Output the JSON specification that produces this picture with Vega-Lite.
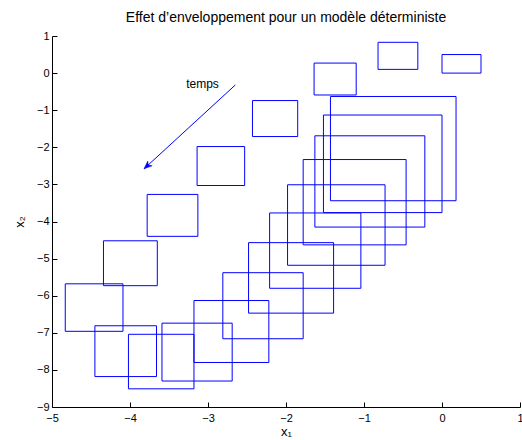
{
  "$schema": "https://vega.github.io/schema/vega-lite/v6.json",
  "width": 468,
  "height": 371,
  "autosize": "none",
  "padding": {"left": 52, "top": 36, "right": 2, "bottom": 33},
  "background": "white",
  "title": {
    "text": "Effet d’enveloppement pour un modèle déterministe",
    "font": "Liberation Sans",
    "fontSize": 14,
    "fontWeight": "normal",
    "color": "black",
    "anchor": "middle",
    "offset": 5
  },
  "config": {
    "view": {"stroke": null},
    "axis": {
      "grid": false,
      "domainColor": "black",
      "domainWidth": 1,
      "tickColor": "black",
      "tickSize": -5,
      "labelFont": "Liberation Sans",
      "labelFontSize": 11,
      "labelColor": "black",
      "labelOverlap": false,
      "labelFlush": false,
      "titleFont": "Liberation Sans",
      "titleFontSize": 13,
      "titleFontWeight": "normal",
      "titleColor": "black"
    }
  },
  "datasets": {
    "rects": [
      {"id": 1, "x1": 0.0, "x2": 0.5, "y1": 0.0, "y2": 0.5},
      {"id": 2, "x1": -0.82, "x2": -0.31, "y1": 0.1, "y2": 0.83},
      {"id": 3, "x1": -1.64, "x2": -1.1, "y1": -0.59, "y2": 0.27},
      {"id": 4, "x1": -2.43, "x2": -1.85, "y1": -1.71, "y2": -0.74},
      {"id": 5, "x1": -3.14, "x2": -2.53, "y1": -3.03, "y2": -1.98},
      {"id": 6, "x1": -3.78, "x2": -3.13, "y1": -4.4, "y2": -3.27},
      {"id": 7, "x1": -4.34, "x2": -3.65, "y1": -5.73, "y2": -4.52},
      {"id": 8, "x1": -4.83, "x2": -4.09, "y1": -6.96, "y2": -5.68},
      {"id": 9, "x1": -4.45, "x2": -3.66, "y1": -8.18, "y2": -6.81},
      {"id": 10, "x1": -4.02, "x2": -3.18, "y1": -8.51, "y2": -7.04},
      {"id": 11, "x1": -3.59, "x2": -2.69, "y1": -8.3, "y2": -6.74},
      {"id": 12, "x1": -3.18, "x2": -2.22, "y1": -7.8, "y2": -6.13},
      {"id": 13, "x1": -2.81, "x2": -1.78, "y1": -7.16, "y2": -5.38},
      {"id": 14, "x1": -2.48, "x2": -1.39, "y1": -6.47, "y2": -4.57},
      {"id": 15, "x1": -2.21, "x2": -1.04, "y1": -5.8, "y2": -3.77},
      {"id": 16, "x1": -1.98, "x2": -0.73, "y1": -5.18, "y2": -3.01},
      {"id": 17, "x1": -1.78, "x2": -0.46, "y1": -4.63, "y2": -2.33},
      {"id": 18, "x1": -1.63, "x2": -0.22, "y1": -4.15, "y2": -1.69},
      {"id": 19, "x1": -1.52, "x2": 0.0, "y1": -3.76, "y2": -1.13},
      {"id": 20, "x1": -1.43, "x2": 0.18, "y1": -3.44, "y2": -0.63}
    ],
    "arrow": [
      {"xs": -2.65, "ys": -0.32, "xe": -3.82, "ye": -2.58}
    ],
    "label": [
      {"x": -3.07, "y": -0.29, "text": "temps"}
    ]
  },
  "layer": [
    {
      "data": {"name": "rects"},
      "mark": {"type": "rect", "fill": null, "filled": false, "stroke": "#0000ff", "strokeWidth": 1},
      "encoding": {
        "x": {"field": "x1", "type": "quantitative", "scale": {"domain": [-5, 1], "nice": false},
              "axis": {"title": "x₁", "values": [-5, -4, -3, -2, -1, 0, 1], "format": "d", "labelOverlap": false, "labelPadding": 10, "titlePadding": 2}},
        "x2": {"field": "x2"},
        "y": {"field": "y1", "type": "quantitative", "scale": {"domain": [-9, 1], "nice": false},
              "axis": {"title": "x₂", "values": [-9, -8, -7, -6, -5, -4, -3, -2, -1, 0, 1], "tickCount": 11, "format": "d", "labelOverlap": false, "labelPadding": 8, "titlePadding": 10}},
        "y2": {"field": "y2"}
      }
    },
    {
      "data": {"name": "arrow"},
      "mark": {"type": "rule", "stroke": "#0000ff", "strokeWidth": 1},
      "encoding": {
        "x": {"field": "xs", "type": "quantitative"},
        "y": {"field": "ys", "type": "quantitative"},
        "x2": {"field": "xe"},
        "y2": {"field": "ye"}
      }
    },
    {
      "data": {"name": "arrow"},
      "mark": {"type": "point", "filled": true, "fill": "#0000ff", "stroke": "#0000ff", "strokeWidth": 0.5,
               "shape": "M0,0L-0.4,1L0,0.7L0.4,1Z", "size": 256, "angle": 227.6, "opacity": 1},
      "encoding": {
        "x": {"field": "xe", "type": "quantitative"},
        "y": {"field": "ye", "type": "quantitative"}
      }
    },
    {
      "data": {"name": "label"},
      "mark": {"type": "text", "font": "Liberation Sans", "fontSize": 12, "color": "black", "align": "center", "baseline": "middle"},
      "encoding": {
        "x": {"field": "x", "type": "quantitative"},
        "y": {"field": "y", "type": "quantitative"},
        "text": {"field": "text"}
      }
    }
  ]
}
